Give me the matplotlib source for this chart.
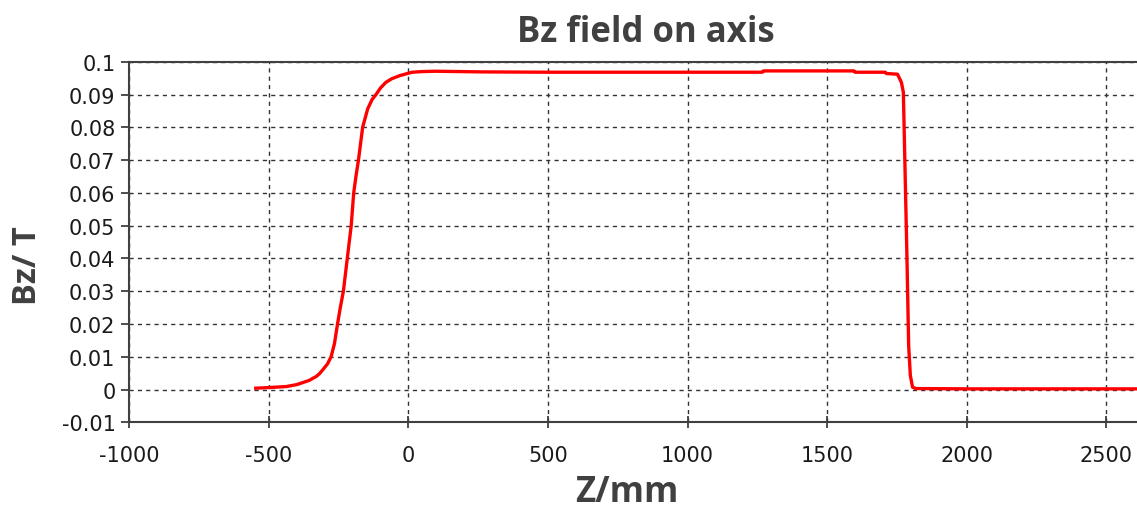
import numpy as np
import matplotlib.pyplot as plt

#------------------------------------------------------------------------------#
'''
Bz field on axis, values read off the reference chart.
'''
#------------------------------------------------------------------------------#

# Position along axis (mm)
z_mm = [-547, -500, -438, -400, -355, -330, -319, -307, -290, -277, -265,
        -254, -244, -233, -226, -219, -212, -205, -196, -188, -179, -164,
        -146, -130, -116, -100, -81, -60, -33, 0, 14, 50, 98, 263, 500,
        1000, 1268, 1272, 1596, 1600, 1708, 1712, 1752, 1766, 1773, 1779,
        1786, 1792, 1798, 1806, 1818, 2000, 2610]

# Axial field (T)
bz_T = [0.0004, 0.0006, 0.0009, 0.0015, 0.0028, 0.0040, 0.0048, 0.0060,
        0.0078, 0.0100, 0.0140, 0.0200, 0.0250, 0.0300, 0.0350, 0.0400,
        0.0450, 0.0500, 0.0600, 0.0650, 0.0700, 0.0800, 0.0856, 0.0885,
        0.0900, 0.0920, 0.0937, 0.0948, 0.0957, 0.0965, 0.0968, 0.0970,
        0.0971, 0.0969, 0.0968, 0.0968, 0.0968, 0.0972, 0.0972, 0.0968,
        0.0968, 0.0964, 0.0962, 0.0937, 0.0907, 0.0673, 0.0398, 0.0134,
        0.0043, 0.0007, 0.0003, 0.0002, 0.0002]

xticks = [-1000, -500, 0, 500, 1000, 1500, 2000, 2500]
yticks = [-0.01, 0, 0.01, 0.02, 0.03, 0.04, 0.05, 0.06, 0.07, 0.08, 0.09, 0.1]
ytick_labels = ['-0.01', '0', '0.01', '0.02', '0.03', '0.04', '0.05',
                '0.06', '0.07', '0.08', '0.09', '0.1']

#------------------------------------------------------------------------------#

def main():

    plt.rcParams['axes.unicode_minus'] = False

    fig = plt.figure(figsize=(11.37, 5.10), dpi=100)
    ax = fig.add_axes([0.1137, 0.170, 0.8863, 0.707])

    ax.plot(z_mm, bz_T, color='#ff0000', lw=2.4, zorder=3)

    ax.set_xlim(-1000, 2610)
    ax.set_ylim(-0.01, 0.1)
    ax.set_xticks(xticks)
    ax.set_yticks(yticks)
    ax.set_yticklabels(ytick_labels)

    # dashed grid
    ax.grid(True, color='#333333', linestyle=(0, (3, 3)), lw=1.0, zorder=1)

    for side in ['left', 'bottom', 'top']:
        ax.spines[side].set_color('#404040')
        ax.spines[side].set_linewidth(1.5)
    ax.spines['right'].set_visible(False)

    ax.tick_params(axis='y', direction='out', length=6, width=1.3,
                   color='#404040', labelsize=15, labelcolor='#1a1a1a', pad=4)
    ax.tick_params(axis='x', direction='inout', length=9, width=1.3,
                   color='#404040', labelsize=15, labelcolor='#1a1a1a', pad=12)

    # Labels
    fig.text(0.568, 0.918, 'Bz field on axis', ha='center', va='baseline',
             fontsize=25, fontweight='bold', family='Open Sans', color='#404040')
    fig.text(0.551, 0.016, 'Z/mm', ha='center', va='baseline',
             fontsize=25, fontweight='bold', family='Open Sans', color='#404040')
    fig.text(0.024, 0.480, 'Bz/ T', ha='center', va='center', rotation=90,
             fontsize=23.5, fontweight='bold', family='Open Sans', color='#404040')

    fig.savefig('out.png', dpi=100)

if __name__ == '__main__':
    main()
